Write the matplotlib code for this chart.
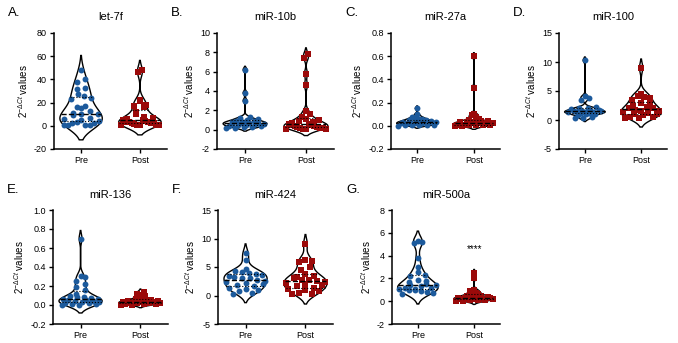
import numpy as np
import matplotlib
matplotlib.use("Agg")
import matplotlib.pyplot as plt
from matplotlib.ticker import FormatStrFormatter, MultipleLocator
from matplotlib.patches import Polygon

plt.rcParams['font.family'] = ['Liberation Sans', 'DejaVu Sans']
plt.rcParams['mathtext.fontset'] = 'custom'
plt.rcParams['mathtext.rm'] = 'Liberation Sans'
plt.rcParams['mathtext.it'] = 'Liberation Sans:italic'
plt.rcParams['axes.unicode_minus'] = False

BLUE = '#1c5a9c'
RED = '#9b0a0a'

groups = ["Pre", "Post"]
titles = ["let-7f", "miR-10b", "miR-27a", "miR-100", "miR-136", "miR-424", "miR-500a"]
letters = ["A.", "B.", "C.", "D.", "E.", "F.", "G."]

# values
let7f_pre = [48, 40, 38, 33, 32, 27, 26, 24, 23, 17, 16, 15, 13, 11, 10, 10, 9, 7, 6, 5, 4, 3, 2, 2, 1, 1, 1, 0.5]
let7f_post = [48, 46, 22, 21, 18, 17, 16, 12, 10, 8, 7, 6, 5, 5, 4, 3, 3, 3, 2, 2, 2, 1.5, 1, 1, 1, 0.5, 0.5]
mir10b_pre = [6.2, 3.8, 3.0, 1.3, 1.2, 1.1, 1.0, 0.9, 0.9, 0.8, 0.8, 0.7, 0.7, 0.7, 0.6, 0.6, 0.6, 0.5, 0.5,
              0.4, 0.4, 0.3, 0.3, 0.2, 0.2]
mir10b_post = [7.8, 7.4, 5.8, 4.6, 1.9, 1.6, 1.3, 1.1, 1.0, 0.9, 0.8, 0.7, 0.6, 0.6, 0.5, 0.5, 0.4, 0.4, 0.3,
               0.3, 0.2, 0.2, 0.15, 0.1, 0.1, 0.05, 0.05]
mir27a_pre = [0.15, 0.10, 0.08, 0.07, 0.06, 0.06, 0.05, 0.05, 0.04, 0.04, 0.04, 0.03, 0.03, 0.03, 0.03, 0.02,
              0.02, 0.02, 0.02, 0.01, 0.01, 0.01, 0.005, 0.005, 0.0]
mir27a_post = [0.60, 0.33, 0.10, 0.09, 0.08, 0.06, 0.05, 0.04, 0.04, 0.03, 0.03, 0.03, 0.02, 0.02, 0.02, 0.02,
               0.01, 0.01, 0.01, 0.01, 0.005, 0.005, 0.0, 0.0]
mir100_pre = [10.3, 4.1, 3.8, 3.5, 2.2, 2.1, 2.0, 1.9, 1.8, 1.7, 1.6, 1.5, 1.5, 1.4, 1.4, 1.3, 1.3, 1.2, 1.2,
              1.1, 1.0, 0.9, 0.5, 0.4, 0.3]
mir100_post = [9.0, 4.5, 4.2, 4.0, 3.8, 3.5, 3.0, 2.8, 2.5, 2.2, 2.0, 2.0, 1.8, 1.6, 1.5, 1.3, 1.2, 1.0, 1.0,
               0.8, 0.6, 0.5, 0.4, 0.3]
mir136_pre = [0.70, 0.31, 0.29, 0.25, 0.22, 0.19, 0.16, 0.12, 0.10, 0.08, 0.08, 0.07, 0.06, 0.06, 0.05, 0.05,
              0.04, 0.04, 0.03, 0.03, 0.02, 0.02, 0.01, 0.01, 0.0, 0.0]
mir136_post = [0.14, 0.12, 0.11, 0.10, 0.08, 0.07, 0.06, 0.05, 0.05, 0.04, 0.04, 0.04, 0.03, 0.03, 0.03, 0.03,
               0.02, 0.02, 0.02, 0.02, 0.01, 0.01, 0.01, 0.0, 0.0]
mir424_pre = [7.5, 6.3, 4.6, 4.3, 4.1, 4.0, 3.8, 3.6, 3.5, 3.3, 3.1, 3.0, 2.8, 2.6, 2.4, 2.2, 2.0, 1.8, 1.6,
              1.4, 1.2, 1.0, 0.8, 0.5, 0.3]
mir424_post = [9.0, 6.3, 6.0, 5.8, 5.0, 4.4, 3.8, 3.4, 3.2, 3.0, 2.8, 2.7, 2.6, 2.4, 2.2, 2.0, 1.9, 1.6, 1.4,
               1.2, 1.0, 0.8, 0.5, 0.3, 0.2]
mir500a_pre = [5.3, 5.2, 5.1, 3.8, 3.0, 2.6, 2.3, 2.2, 1.9, 1.8, 1.7, 1.5, 1.4, 1.4, 1.3, 1.2, 1.2, 1.1, 1.1,
               1.0, 1.0, 0.9, 0.8, 0.7, 0.6]
mir500a_post = [2.5, 2.0, 1.0, 0.9, 0.8, 0.7, 0.6, 0.5, 0.5, 0.4, 0.4, 0.3, 0.3, 0.3, 0.3, 0.2, 0.2, 0.2, 0.2,
                0.15, 0.1, 0.1, 0.1, 0.05, 0.0]

pre_data = [let7f_pre, mir10b_pre, mir27a_pre, mir100_pre, mir136_pre, mir424_pre, mir500a_pre]
post_data = [let7f_post, mir10b_post, mir27a_post, mir100_post, mir136_post, mir424_post, mir500a_post]

y_lims = [(-20, 80), (-2, 10), (-0.2, 0.8), (-5, 15), (-0.2, 1.0), (-5, 15), (-2, 8)]
y_steps = [20, 2, 0.2, 5, 0.2, 5, 2]
y_fmt = ['%g', '%g', '%.1f', '%g', '%.1f', '%g', '%g']

# axes boxes in pixels: left, top, right, bottom
boxes = [(54, 33, 167, 149), (217, 33, 334, 149), (391, 33, 500, 149), (559, 33, 667, 149),
         (53, 210, 168, 324), (218, 210, 333, 324), (392, 210, 500, 324)]

W, H = 678, 343
fig = plt.figure(figsize=(W / 100, H / 100), dpi=100)


def kde_violin(vals):
    v = np.asarray(vals, float)
    n = len(v)
    q1, q3 = np.percentile(v, [25, 75])
    sig = min(v.std(ddof=1), (q3 - q1) / 1.34)
    bw = 1.0 * sig * n ** -0.2
    ys = np.linspace(v.min() - 1.8 * bw, v.max() + 1.8 * bw, 300)
    dens = np.exp(-0.5 * ((ys[:, None] - v[None, :]) / bw) ** 2).sum(axis=1)
    return ys, dens / dens.max()


def spread_rows(ax, x0, vals, ys, w, row_px=5.5, gap_px=8.5):
    # points of similar height go in one row, spread over the violin width
    v = np.asarray(vals, float)
    ypx = ax.transData.transform(np.column_stack([np.full(len(v), x0), v]))[:, 1]
    xscale = ax.transData.transform([[1, 0]])[0, 0] - ax.transData.transform([[0, 0]])[0, 0]
    order = np.argsort(ypx, kind='stable')
    xs = np.full(len(v), float(x0))
    rows, cur = [], [order[0]]
    for i in order[1:]:
        if ypx[i] - ypx[cur[0]] < row_px:
            cur.append(i)
        else:
            rows.append(cur)
            cur = [i]
    rows.append(cur)
    for row in rows:
        m = len(row)
        if m == 1:
            continue
        ymean = v[row].mean()
        lim = 0.92 * np.interp(ymean, ys, w)
        half = min(lim, (m - 1) * gap_px / 2 / xscale)
        offs = np.linspace(-half, half, m)
        stride = 3 if m % 3 else (5 if m % 5 else 7)
        slots = [(j * stride) % m for j in range(m)]
        for j, i in enumerate(row):
            xs[i] = x0 + offs[slots[j]]
    return xs


half_w = 0.36
for k in range(7):
    l, t, r, b = boxes[k]
    ax = fig.add_axes([l / W, 1 - b / H, (r - l) / W, (b - t) / H])
    ax.set_xlim(-0.46, 1.46)
    ax.set_ylim(*y_lims[k])
    ax.yaxis.set_major_locator(MultipleLocator(y_steps[k]))
    ax.yaxis.set_major_formatter(FormatStrFormatter(y_fmt[k]))
    ax.set_xticks([0, 1])
    ax.set_xticklabels(groups)
    for s in ['top', 'right']:
        ax.spines[s].set_visible(False)
    for s in ['left', 'bottom']:
        ax.spines[s].set_linewidth(1.1)
    ax.tick_params(labelsize=6.5, width=1.0, length=3, pad=2)
    ax.set_ylabel(r"$2^{-\Delta Ct}$ values", fontsize=7, labelpad=3)
    ax.set_title(titles[k], fontsize=8, pad=9)
    fig.text((l - 46) / W, 1 - (t - 20) / H, letters[k], fontsize=9.5, va='center', ha='left')

    for x0, vals, col, mk in [(0, pre_data[k], BLUE, 'o'), (1, post_data[k], RED, 's')]:
        ys, d = kde_violin(vals)
        w = half_w * d
        poly = np.vstack([np.column_stack([x0 + w, ys]), np.column_stack([x0 - w[::-1], ys[::-1]])])
        ax.add_patch(Polygon(poly, closed=True, facecolor='white', edgecolor='black', lw=1.0, zorder=1))
        q1, med, q3 = np.percentile(vals, [25, 50, 75])
        for q, ls, lw in [(q1, ':', 0.8), (med, '--', 1.0), (q3, ':', 0.8)]:
            wq = np.interp(q, ys, w)
            ax.plot([x0 - wq, x0 + wq], [q, q], color='black', ls=ls, lw=lw, zorder=4)
        xs = spread_rows(ax, x0, vals, ys, w)
        ax.scatter(xs, vals, s=18 if mk == 'o' else 16, marker=mk, color=col, lw=0, zorder=3)

    if k == 6:
        ax.text(1, 4.1, "****", ha='center', va='bottom', fontsize=7)

fig.savefig("out.png", dpi=100)
